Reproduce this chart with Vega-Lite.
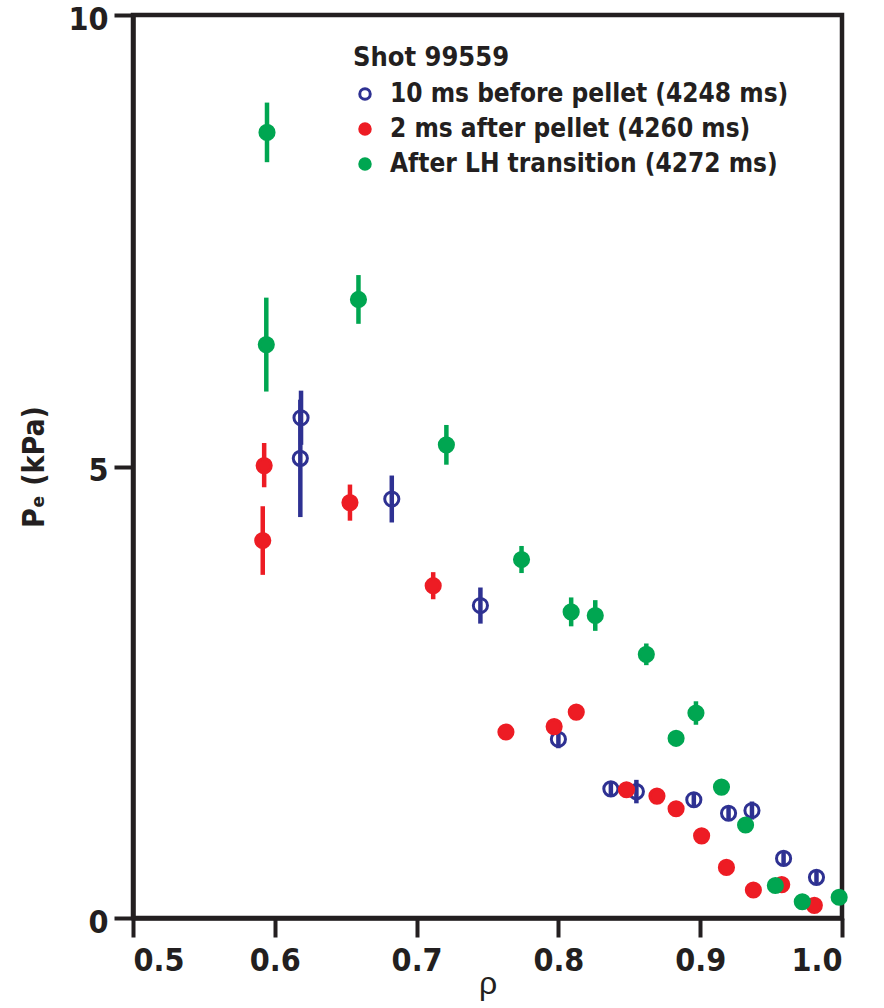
{
  "$schema": "https://vega.github.io/schema/vega-lite/v6.json",
  "width": 709,
  "height": 903,
  "autosize": {"type": "none"},
  "padding": {"left": 133, "top": 15, "right": 42, "bottom": 90},
  "background": "white",
  "config": {
    "view": {"stroke": "#231F20", "strokeWidth": 4.5},
    "font": "DejaVu Sans Condensed",
    "axis": {
      "grid": false,
      "domainColor": "#231F20",
      "domainWidth": 4.5,
      "tickColor": "#231F20",
      "tickWidth": 4,
      "tickSize": 19,
      "labelColor": "#231F20",
      "labelFont": "DejaVu Sans Condensed",
      "labelFontWeight": "bold",
      "labelFontSize": 32,
      "titleColor": "#231F20"
    }
  },
  "data": {
    "values": [
      {"series": "10 ms before pellet (4248 ms)", "rho": 0.6185, "pe": 5.54, "lo": 5.24, "hi": 5.84},
      {"series": "10 ms before pellet (4248 ms)", "rho": 0.618, "pe": 5.09, "lo": 4.44, "hi": 5.74},
      {"series": "10 ms before pellet (4248 ms)", "rho": 0.6825, "pe": 4.64, "lo": 4.38, "hi": 4.9},
      {"series": "10 ms before pellet (4248 ms)", "rho": 0.745, "pe": 3.46, "lo": 3.26, "hi": 3.66},
      {"series": "10 ms before pellet (4248 ms)", "rho": 0.8, "pe": 1.98, "lo": 1.88, "hi": 2.08},
      {"series": "10 ms before pellet (4248 ms)", "rho": 0.837, "pe": 1.43, "lo": 1.35, "hi": 1.51},
      {"series": "10 ms before pellet (4248 ms)", "rho": 0.855, "pe": 1.4, "lo": 1.27, "hi": 1.53},
      {"series": "10 ms before pellet (4248 ms)", "rho": 0.8955, "pe": 1.31, "lo": 1.23, "hi": 1.39},
      {"series": "10 ms before pellet (4248 ms)", "rho": 0.92, "pe": 1.16, "lo": 1.08, "hi": 1.24},
      {"series": "10 ms before pellet (4248 ms)", "rho": 0.9365, "pe": 1.19, "lo": 1.09, "hi": 1.29},
      {"series": "10 ms before pellet (4248 ms)", "rho": 0.9588, "pe": 0.66, "lo": 0.58, "hi": 0.74},
      {"series": "10 ms before pellet (4248 ms)", "rho": 0.982, "pe": 0.45, "lo": 0.37, "hi": 0.53},
      {"series": "2 ms after pellet (4260 ms)", "rho": 0.5925, "pe": 5.01, "lo": 4.77, "hi": 5.26},
      {"series": "2 ms after pellet (4260 ms)", "rho": 0.5915, "pe": 4.18, "lo": 3.8, "hi": 4.56},
      {"series": "2 ms after pellet (4260 ms)", "rho": 0.653, "pe": 4.6, "lo": 4.4, "hi": 4.8},
      {"series": "2 ms after pellet (4260 ms)", "rho": 0.7117, "pe": 3.68, "lo": 3.53, "hi": 3.83},
      {"series": "2 ms after pellet (4260 ms)", "rho": 0.763, "pe": 2.06},
      {"series": "2 ms after pellet (4260 ms)", "rho": 0.797, "pe": 2.12},
      {"series": "2 ms after pellet (4260 ms)", "rho": 0.8126, "pe": 2.28},
      {"series": "2 ms after pellet (4260 ms)", "rho": 0.848, "pe": 1.42},
      {"series": "2 ms after pellet (4260 ms)", "rho": 0.8695, "pe": 1.35},
      {"series": "2 ms after pellet (4260 ms)", "rho": 0.883, "pe": 1.21},
      {"series": "2 ms after pellet (4260 ms)", "rho": 0.901, "pe": 0.91},
      {"series": "2 ms after pellet (4260 ms)", "rho": 0.9185, "pe": 0.56},
      {"series": "2 ms after pellet (4260 ms)", "rho": 0.9375, "pe": 0.31},
      {"series": "2 ms after pellet (4260 ms)", "rho": 0.9575, "pe": 0.37},
      {"series": "2 ms after pellet (4260 ms)", "rho": 0.9805, "pe": 0.14},
      {"series": "After LH transition (4272 ms)", "rho": 0.5945, "pe": 8.7, "lo": 8.37, "hi": 9.03},
      {"series": "After LH transition (4272 ms)", "rho": 0.594, "pe": 6.35, "lo": 5.83, "hi": 6.87},
      {"series": "After LH transition (4272 ms)", "rho": 0.659, "pe": 6.85, "lo": 6.58, "hi": 7.12},
      {"series": "After LH transition (4272 ms)", "rho": 0.721, "pe": 5.24, "lo": 5.02, "hi": 5.46},
      {"series": "After LH transition (4272 ms)", "rho": 0.774, "pe": 3.97, "lo": 3.82, "hi": 4.12},
      {"series": "After LH transition (4272 ms)", "rho": 0.809, "pe": 3.39, "lo": 3.23, "hi": 3.55},
      {"series": "After LH transition (4272 ms)", "rho": 0.826, "pe": 3.35, "lo": 3.18, "hi": 3.52},
      {"series": "After LH transition (4272 ms)", "rho": 0.862, "pe": 2.92, "lo": 2.8, "hi": 3.04},
      {"series": "After LH transition (4272 ms)", "rho": 0.897, "pe": 2.27, "lo": 2.14, "hi": 2.4},
      {"series": "After LH transition (4272 ms)", "rho": 0.883, "pe": 1.99},
      {"series": "After LH transition (4272 ms)", "rho": 0.915, "pe": 1.45},
      {"series": "After LH transition (4272 ms)", "rho": 0.932, "pe": 1.03},
      {"series": "After LH transition (4272 ms)", "rho": 0.953, "pe": 0.36},
      {"series": "After LH transition (4272 ms)", "rho": 0.972, "pe": 0.18},
      {"series": "After LH transition (4272 ms)", "rho": 0.998, "pe": 0.23}
    ]
  },
  "layer": [
    {
      "transform": [{"filter": "isValid(datum.lo)"}],
      "mark": {"type": "rule", "strokeWidth": 4.5},
      "encoding": {
        "x": {"field": "rho", "type": "quantitative"},
        "y": {"field": "lo", "type": "quantitative"},
        "y2": {"field": "hi"},
        "color": {
          "field": "series",
          "type": "nominal",
          "scale": {
            "domain": ["After LH transition (4272 ms)", "2 ms after pellet (4260 ms)", "10 ms before pellet (4248 ms)"],
            "range": ["#00A651", "#ED1C24", "#2E3192"]
          },
          "legend": null
        }
      }
    },
    {
      "mark": {"type": "point", "shape": "circle", "size": 200, "strokeWidth": 3, "opacity": 1, "fillOpacity": 1, "strokeOpacity": 1},
      "encoding": {
        "x": {
          "field": "rho",
          "type": "quantitative",
          "scale": {"domain": [0.5, 1.0], "nice": false, "zero": false},
          "axis": {
            "values": [0.5, 0.6, 0.7, 0.8, 0.9, 1.0],
            "format": ".1f",
            "labelPadding": 8,
            "title": "ρ",
            "titleFont": "Liberation Sans",
            "titleFontWeight": "normal",
            "titleFontSize": 32,
            "titlePadding": -8
          }
        },
        "y": {
          "field": "pe",
          "type": "quantitative",
          "scale": {"domain": [0, 10], "nice": false},
          "axis": {
            "values": [0, 5, 10],
            "format": "d",
            "labelPadding": 6,
            "labelOffset": 4,
            "labelFlush": false,
            "title": "Pₑ (kPa)",
            "titleFont": "DejaVu Sans Condensed",
            "titleFontWeight": "bold",
            "titleFontSize": 30,
            "titlePadding": 18
          }
        },
        "fill": {
          "field": "series",
          "type": "nominal",
          "scale": {
            "domain": ["10 ms before pellet (4248 ms)", "2 ms after pellet (4260 ms)", "After LH transition (4272 ms)"],
            "range": ["transparent", "#ED1C24", "#00A651"]
          },
          "legend": {
            "title": "Shot 99559",
            "orient": "none",
            "legendX": 220,
            "legendY": 30,
            "padding": 0,
            "titleFontSize": 27,
            "titleFontWeight": "bold",
            "titleColor": "#231F20",
            "titlePadding": 9,
            "labelFontSize": 26,
            "labelFontWeight": "bold",
            "labelColor": "#231F20",
            "labelLimit": 700,
            "labelOffset": 12,
            "symbolType": "circle",
            "symbolSize": 110,
            "symbolStrokeWidth": 3,
            "symbolOffset": -1,
            "rowPadding": 9
          }
        },
        "stroke": {
          "field": "series",
          "type": "nominal",
          "scale": {
            "domain": ["10 ms before pellet (4248 ms)", "2 ms after pellet (4260 ms)", "After LH transition (4272 ms)"],
            "range": ["#2E3192", "#ED1C24", "#00A651"]
          },
          "legend": {
            "title": "Shot 99559",
            "orient": "none",
            "legendX": 220,
            "legendY": 30,
            "padding": 0,
            "titleFontSize": 27,
            "titleFontWeight": "bold",
            "titleColor": "#231F20",
            "titlePadding": 9,
            "labelFontSize": 26,
            "labelFontWeight": "bold",
            "labelColor": "#231F20",
            "labelLimit": 700,
            "labelOffset": 12,
            "symbolType": "circle",
            "symbolSize": 110,
            "symbolStrokeWidth": 3,
            "symbolOffset": -1,
            "rowPadding": 9
          }
        }
      }
    }
  ]
}
